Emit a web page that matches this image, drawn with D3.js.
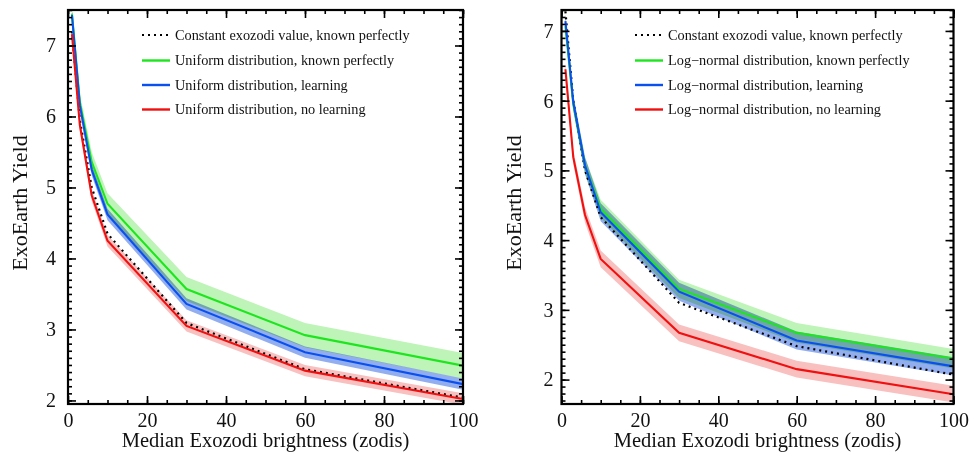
<!DOCTYPE html>
<html>
<head>
<meta charset="utf-8">
<script src="https://cdn.jsdelivr.net/npm/d3@7"></script>
<style>
  html, body { margin: 0; padding: 0; background: #fff; }
  svg { display: block; }
  text { font-family: "Liberation Serif", "Times New Roman", serif; fill: #111; }
</style>
</head>
<body>
<svg id="chart" width="974" height="466"></svg>
<script>
// Median exozodi levels (zodis) at which yields were computed
const zodis = [1, 3, 6, 10, 30, 60, 100];

// Left panel: uniform exozodi distribution
const leftConstant   = [7.20, 5.95, 5.00, 4.35, 3.09, 2.44, 2.04];
const uniformKnown   = [7.45, 6.20, 5.36, 4.77, 3.57, 2.92, 2.49];
const uniformLearn   = [7.43, 6.16, 5.25, 4.62, 3.36, 2.68, 2.23];
const uniformNoLearn = [7.16, 5.88, 4.89, 4.25, 3.05, 2.42, 2.02];
const uniformKnownSpread   = [0.10, 0.12, 0.14, 0.15, 0.17, 0.17, 0.18];
const uniformLearnSpread   = [0.07, 0.08, 0.08, 0.08, 0.08, 0.08, 0.08];
const uniformNoLearnSpread = [0.07, 0.08, 0.08, 0.08, 0.08, 0.08, 0.08];

// Right panel: log-normal exozodi distribution
const rightConstant = [7.28, 6.00, 5.00, 4.33, 3.10, 2.48, 2.07];
const lognKnown     = [7.07, 5.95, 5.07, 4.45, 3.30, 2.67, 2.30];
const lognLearn     = [7.14, 5.98, 5.07, 4.40, 3.26, 2.56, 2.19];
const lognNoLearn   = [6.45, 5.19, 4.36, 3.73, 2.67, 2.15, 1.79];
const lognKnownSpread   = [0.10, 0.11, 0.12, 0.13, 0.13, 0.14, 0.14];
const lognLearnSpread   = [0.10, 0.11, 0.12, 0.13, 0.13, 0.13, 0.13];
const lognNoLearnSpread = [0.09, 0.10, 0.11, 0.12, 0.12, 0.12, 0.12];

// Axis settings
const xDomain = [0, 100];
const xMajorTicks = [0, 20, 40, 60, 80, 100];
const leftYDomain = [1.95, 7.5];
const rightYDomain = [1.65, 7.3];
const leftYTicks = [2, 3, 4, 5, 6, 7];
const rightYTicks = [2, 3, 4, 5, 6, 7];

const leftLabels = [
  "Constant exozodi value, known perfectly",
  "Uniform distribution, known perfectly",
  "Uniform distribution, learning",
  "Uniform distribution, no learning"
];
const rightLabels = [
  "Constant exozodi value, known perfectly",
  "Log\u2212normal distribution, known perfectly",
  "Log\u2212normal distribution, learning",
  "Log\u2212normal distribution, no learning"
];

const COL = { green: "#1ee61e", blue: "#0a50f0", red: "#f01010" };
const BAND = { green: "#bff4b8", blue: "#93aeef", red: "#f9c0c0" };

const svg = d3.select("#chart");

function panel(opts) {
  const { left, right, top, bottom, yDomain, yTicks, series, labels, legendX, id, yPad } = opts;
  const x = d3.scaleLinear().domain(xDomain).range([left, right]);
  const y = d3.scaleLinear().domain(yDomain).range([bottom, top]);
  const g = svg.append("g");

  g.append("clipPath").attr("id", id).append("rect")
    .attr("x", left).attr("y", top).attr("width", right - left).attr("height", bottom - top);

  const plot = g.append("g").attr("clip-path", `url(#${id})`);

  // shaded uncertainty bands
  const area = d3.area().x(d => x(d.x)).y0(d => y(d.lo)).y1(d => y(d.hi));
  series.filter(s => s.spread).forEach(s => {
    const pts = zodis.map((z, i) => ({ x: z, lo: s.values[i] - s.spread[i], hi: s.values[i] + s.spread[i] }));
    plot.append("path").attr("d", area(pts))
      .attr("fill", BAND[s.color])
      .style("mix-blend-mode", "multiply");
  });

  // curves
  const line = d3.line().x(d => x(d.x)).y(d => y(d.y));
  series.forEach(s => {
    const pts = zodis.map((z, i) => ({ x: z, y: s.values[i] }));
    const p = plot.append("path").attr("d", line(pts)).attr("fill", "none");
    if (s.dotted) {
      p.attr("stroke", "#000").attr("stroke-width", 2.2).attr("stroke-dasharray", "2,4");
    } else {
      p.attr("stroke", COL[s.color]).attr("stroke-width", 2.1);
    }
  });

  // axes with inward ticks on all four sides
  const xMinor = d3.range(0, 101, 5);
  const yMinor = d3.range(Math.ceil(yDomain[0] * 10), Math.floor(yDomain[1] * 10) + 1).map(v => v / 10);

  function styleAxis(sel) {
    sel.select(".domain").remove();
    sel.selectAll(".tick line").attr("stroke", "#000").attr("stroke-width", 1.6);
    sel.selectAll("text").style("font-size", "20px").style("font-family", '"Liberation Serif", serif').attr("fill", "#111");
  }

  g.append("g").attr("transform", `translate(0,${bottom})`)
    .call(d3.axisBottom(x).tickValues(xMinor).tickSize(-4).tickFormat("")).call(styleAxis);
  g.append("g").attr("transform", `translate(0,${bottom})`)
    .call(d3.axisBottom(x).tickValues(xMajorTicks).tickSize(-8).tickPadding(9).tickFormat(d3.format("d"))).call(styleAxis);
  g.append("g").attr("transform", `translate(0,${top})`)
    .call(d3.axisTop(x).tickValues(xMinor).tickSize(-4).tickFormat("")).call(styleAxis);
  g.append("g").attr("transform", `translate(0,${top})`)
    .call(d3.axisTop(x).tickValues(xMajorTicks).tickSize(-8).tickFormat("")).call(styleAxis);

  g.append("g").attr("transform", `translate(${left},0)`)
    .call(d3.axisLeft(y).tickValues(yMinor).tickSize(-4).tickFormat("")).call(styleAxis);
  g.append("g").attr("transform", `translate(${left},0)`)
    .call(d3.axisLeft(y).tickValues(yTicks).tickSize(-8).tickPadding(yPad).tickFormat(d3.format("d"))).call(styleAxis);
  g.append("g").attr("transform", `translate(${right},0)`)
    .call(d3.axisRight(y).tickValues(yMinor).tickSize(-4).tickFormat("")).call(styleAxis);
  g.append("g").attr("transform", `translate(${right},0)`)
    .call(d3.axisRight(y).tickValues(yTicks).tickSize(-8).tickFormat("")).call(styleAxis);

  // frame
  g.append("rect").attr("x", left).attr("y", top).attr("width", right - left).attr("height", bottom - top)
    .attr("fill", "none").attr("stroke", "#000").attr("stroke-width", 2.2);

  // axis titles
  g.append("text").attr("x", (left + right) / 2).attr("y", bottom + 43)
    .attr("text-anchor", "middle").style("font-size", "20.5px")
    .text("Median Exozodi brightness (zodis)");
  g.append("text").attr("transform", `translate(${left - 41},${(top + bottom) / 2 - 4}) rotate(-90)`)
    .attr("text-anchor", "middle").style("font-size", "22px")
    .text("ExoEarth Yield");

  // legend
  const rowY = [35, 60.5, 85, 109.5];
  series.forEach((s, i) => {
    const ly = rowY[i];
    const ln = g.append("line").attr("x1", legendX).attr("x2", legendX + 28).attr("y1", ly).attr("y2", ly);
    if (s.dotted) ln.attr("stroke", "#000").attr("stroke-width", 2.2).attr("stroke-dasharray", "2,4");
    else ln.attr("stroke", COL[s.color]).attr("stroke-width", 2.4);
    g.append("text").attr("x", legendX + 33).attr("y", ly + 4.8)
      .style("font-size", "14.3px").text(labels[i]);
  });
}

panel({
  id: "clipL", left: 68, right: 463, top: 10, bottom: 404, yPad: 12,
  yDomain: leftYDomain, yTicks: leftYTicks, legendX: 142, labels: leftLabels,
  series: [
    { values: leftConstant, dotted: true },
    { values: uniformKnown, spread: uniformKnownSpread, color: "green" },
    { values: uniformLearn, spread: uniformLearnSpread, color: "blue" },
    { values: uniformNoLearn, spread: uniformNoLearnSpread, color: "red" }
  ]
});

panel({
  id: "clipR", left: 561.5, right: 953.5, top: 10, bottom: 404, yPad: 8,
  yDomain: rightYDomain, yTicks: rightYTicks, legendX: 635, labels: rightLabels,
  series: [
    { values: rightConstant, dotted: true },
    { values: lognKnown, spread: lognKnownSpread, color: "green" },
    { values: lognLearn, spread: lognLearnSpread, color: "blue" },
    { values: lognNoLearn, spread: lognNoLearnSpread, color: "red" }
  ]
});
</script>
</body>
</html>
